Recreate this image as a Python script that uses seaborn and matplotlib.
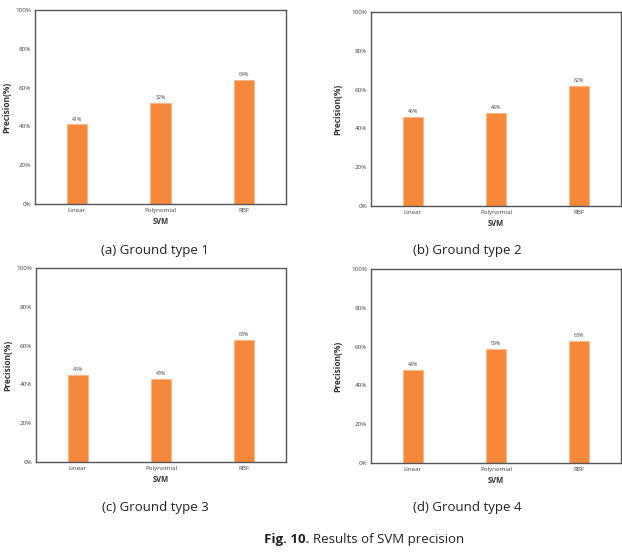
import matplotlib
matplotlib.use("Agg")
import matplotlib.pyplot as plt
import seaborn as sns
import pandas as pd
from matplotlib.ticker import PercentFormatter

methods = ["Linear", "Polynomial", "RBF"]
ground1 = [41, 52, 64]
ground2 = [46, 48, 62]
ground3 = [45, 43, 63]
ground4 = [48, 59, 63]
captions = ["(a) Ground type 1", "(b) Ground type 2", "(c) Ground type 3", "(d) Ground type 4"]
yticks = [0, 20, 40, 60, 80, 100]

sns.set_theme(style="white")
plt.rcParams['font.family'] = ['Open Sans', 'DejaVu Sans']

fig = plt.figure(figsize=(6.22, 5.52), dpi=100)
positions = [
    [0.0563, 0.6304, 0.4035, 0.3515],
    [0.5965, 0.6268, 0.4020, 0.3515],
    [0.0579, 0.1630, 0.4019, 0.3515],
    [0.5965, 0.1612, 0.4020, 0.3515],
]
caption_pos = [(0.249, 0.547), (0.752, 0.547), (0.249, 0.080), (0.752, 0.080)]
ylabel_pads = [2.5, 6, 2.5, 6]
series = [ground1, ground2, ground3, ground4]

for vals, pos, cap, cpos, lp in zip(series, positions, captions, caption_pos, ylabel_pads):
    ax = fig.add_axes(pos)
    df = pd.DataFrame({"SVM": methods, "Precision": vals})
    sns.barplot(data=df, x="SVM", y="Precision", color="#F5883A", width=0.24,
                edgecolor="#FBB98A", linewidth=0.8, saturation=1, ax=ax)
    for p, v in zip(ax.patches, vals):
        ax.text(p.get_x() + p.get_width() / 2, p.get_height() + 1.5, f"{v}%",
                ha="center", va="bottom", fontsize=3.8, color="#444444")
    ax.set_ylim(0, 100)
    ax.set_xlim(-0.5, 2.5)
    ax.set_yticks(yticks)
    ax.yaxis.set_major_formatter(PercentFormatter(decimals=0))
    ax.tick_params(axis="both", length=0, labelsize=4.5, colors="#444444", pad=3)
    ax.set_xlabel("SVM", fontsize=5.5, fontweight="bold", color="#333333", labelpad=3)
    ax.set_ylabel("Precision(%)", fontsize=6, fontweight="bold", color="#333333", labelpad=lp)
    for s in ax.spines.values():
        s.set_visible(True)
        s.set_color("#555555")
        s.set_linewidth(1.0)
    fig.text(cpos[0], cpos[1], cap, ha="center", va="center", fontsize=9.5, color="#222222")

fig.text(0.497, 0.022, "Fig. 10.", ha="right", va="center", fontsize=9.5,
         fontweight="bold", color="#222222")
fig.text(0.503, 0.022, "Results of SVM precision", ha="left", va="center",
         fontsize=9.5, color="#222222")

fig.savefig("out.png", dpi=100, facecolor="white")
